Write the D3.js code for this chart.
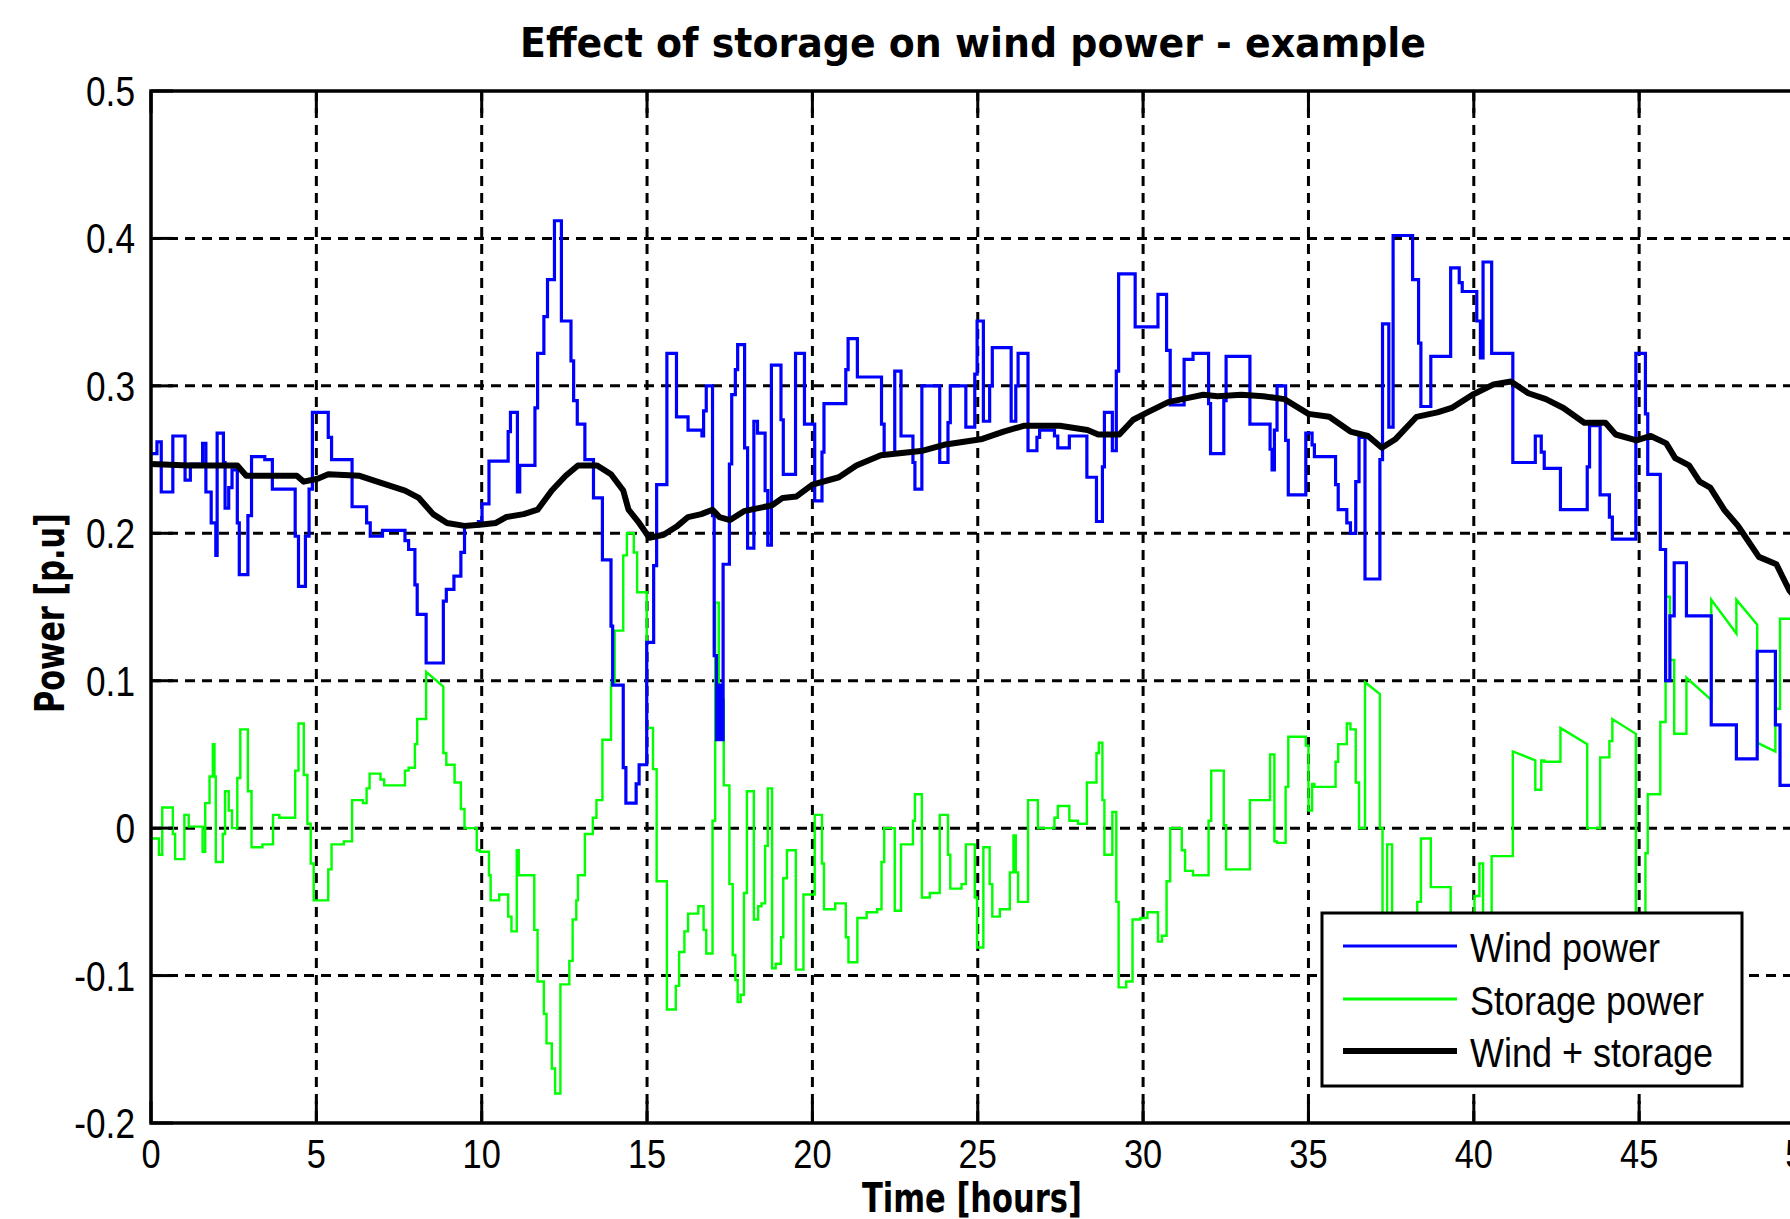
<!DOCTYPE html>
<html>
<head>
<meta charset="utf-8">
<script src="https://cdn.jsdelivr.net/npm/d3@7"></script>
<style>
  body { margin: 0; background: #fff; }
  svg { display: block; }
</style>
</head>
<body>
<div id="chart"></div>
<script>
// ---------------- data (hours, p.u.) ----------------
const xTicks = [0, 5, 10, 15, 20, 25, 30, 35, 40, 45, 50];
const yTicks = [-0.2, -0.1, 0, 0.1, 0.2, 0.3, 0.4, 0.5];
const seriesNames = ["Wind power", "Storage power", "Wind + storage"];

// wind power: step starts [t, value]
const windSteps = [
  [0, .254], [0.18, .262], [0.31, .228], [0.66, .266], [1.03, .236], [1.19, .247], [1.56, .261],
  [1.66, .228], [1.82, .207], [1.96, .185], [2.0, .268], [2.19, .248], [2.24, .217], [2.35, .231],
  [2.45, .243], [2.61, .207], [2.67, .172], [2.93, .212], [3.04, .252], [3.44, .25], [3.67, .23],
  [4.36, .198], [4.46, .164], [4.67, .198], [4.78, .23], [4.88, .282], [5.36, .265], [5.46, .25],
  [6.08, .218], [6.52, .207], [6.63, .198], [7.0, .202], [7.68, .195], [7.79, .189], [7.98, .165],
  [8.05, .145], [8.32, .112], [8.84, .154], [8.93, .162], [9.16, .171], [9.37, .187], [9.48, .205],
  [9.9, .208], [10.01, .22], [10.22, .249], [10.8, .269], [10.87, .282], [11.08, .228], [11.15, .246],
  [11.61, .285], [11.69, .322], [11.88, .347], [11.99, .372], [12.2, .412], [12.41, .344], [12.7, .317],
  [12.78, .29], [12.89, .274], [13.12, .25], [13.38, .224], [13.65, .182], [13.91, .137], [13.96, .097],
  [14.28, .041], [14.36, .017], [14.67, .03], [14.76, .043], [14.99, .126], [15.2, .178], [15.29, .233],
  [15.6, .322], [15.89, .279], [16.24, .27], [16.66, .266], [16.71, .283], [16.79, .30], [16.98, .212],
  [17.03, .117], [17.1, .06], [17.17, .097], [17.25, .06], [17.3, .179], [17.49, .247], [17.56, .294],
  [17.67, .311], [17.74, .328], [17.95, .258], [18.04, .19], [18.23, .276], [18.34, .268], [18.57, .229],
  [18.65, .192], [18.76, .314], [19.05, .277], [19.12, .24], [19.49, .322], [19.76, .274], [20.07, .222],
  [20.29, .255], [20.35, .288], [21.01, .311], [21.08, .332], [21.36, .306], [22.09, .274], [22.17, .254],
  [22.49, .31], [22.68, .266], [23.04, .248], [23.1, .23], [23.31, .30], [23.85, .248], [24.1, .275],
  [24.17, .30], [24.64, .272], [24.91, .308], [24.98, .344], [25.17, .276], [25.36, .30], [25.44, .326],
  [26.01, .276], [26.15, .30], [26.22, .322], [26.52, .256], [26.79, .265], [26.87, .27], [27.32, .266],
  [27.42, .258], [27.77, .266], [28.3, .238], [28.59, .208], [28.77, .245], [28.83, .282], [29.07, .256],
  [29.19, .31], [29.26, .376], [29.76, .34], [30.45, .362], [30.71, .324], [30.82, .287], [31.24, .318],
  [31.51, .322], [31.98, .288], [32.04, .254], [32.44, .29], [32.51, .32], [33.23, .274], [33.84, .257],
  [33.9, .243], [33.97, .27], [34.05, .30], [34.31, .263], [34.39, .226], [34.92, .268], [35.11, .26],
  [35.18, .252], [35.82, .233], [35.9, .216], [36.16, .207], [36.27, .20], [36.43, .235], [36.53, .265],
  [36.71, .169], [37.16, .25], [37.24, .342], [37.43, .272], [37.56, .402], [38.15, .372], [38.33, .329],
  [38.4, .286], [38.7, .32], [39.3, .38], [39.56, .37], [39.65, .364], [40.09, .344], [40.2, .319],
  [40.28, .384], [40.54, .322], [41.18, .248], [41.86, .266], [42.04, .255], [42.13, .244], [42.62, .216],
  [43.43, .245], [43.5, .273], [43.82, .226], [44.1, .211], [44.19, .196], [44.9, .322], [45.19, .281],
  [45.26, .24], [45.64, .189], [45.8, .1], [45.93, .144], [46.06, .18], [46.43, .144], [47.18, .07],
  [47.94, .047], [48.57, .12], [49.12, .07], [49.26, .029]
];

// storage power: step starts [t, value] or [t, [start, end]] where the step slopes
const storageSteps = [
  [0, -.007], [0.24, -.018], [0.34, .014], [0.66, -.004], [0.73, -.021], [1.01, .009], [1.14, .001],
  [1.56, -.016], [1.64, .017], [1.77, .035], [1.87, .057], [1.92, .035], [1.96, -.023], [2.17, -.004],
  [2.24, .025], [2.35, .012], [2.45, .0], [2.61, .034], [2.70, .067], [2.93, .025], [3.04, -.013],
  [3.37, -.011], [3.69, .009], [3.88, .007], [4.36, .039], [4.46, .071], [4.62, .036], [4.73, .003],
  [4.83, -.024], [4.92, -.049], [5.36, -.028], [5.46, -.011], [5.83, -.009], [6.08, .019], [6.41, .017],
  [6.52, .027], [6.61, .037], [6.94, .033], [7.05, .029], [7.68, .039], [7.79, .041], [7.98, .057],
  [8.05, .074], [8.32, [.106, .096]], [8.84, .051], [8.93, .043], [9.18, .031], [9.37, .013], [9.48, .0],
  [9.85, -.015], [9.95, -.016], [10.22, -.032], [10.27, -.049], [10.53, -.045], [10.8, -.06], [10.9, -.07],
  [11.06, -.015], [11.12, -.032], [11.59, -.069], [11.69, -.104], [11.88, -.126], [11.96, -.146],
  [12.12, -.163], [12.22, -.18], [12.38, -.106], [12.65, -.09], [12.75, -.062], [12.86, -.049],
  [12.91, -.032], [13.12, -.004], [13.36, .007], [13.47, .019], [13.65, .06], [13.91, .099], [14.02, .134],
  [14.28, .185], [14.39, .2], [14.6, .187], [14.7, .16], [14.99, .068], [15.18, .04], [15.29, -.036],
  [15.6, -.123], [15.87, -.107], [15.97, -.084], [16.13, -.07], [16.24, -.058], [16.55, -.053],
  [16.71, -.069], [16.79, -.085], [16.98, .005], [17.06, .153], [17.17, .087], [17.32, .029],
  [17.49, -.038], [17.59, -.086], [17.67, -.103], [17.74, -.118], [17.83, -.113], [17.93, -.044],
  [18.02, .025], [18.23, -.062], [18.36, -.053], [18.46, -.051], [18.57, -.012], [18.65, .027],
  [18.78, -.095], [18.89, -.092], [19.05, -.074], [19.12, -.034], [19.23, -.015], [19.5, -.096],
  [19.73, -.045], [20.07, .009], [20.29, -.024], [20.35, -.055], [20.69, -.051], [21.01, -.074],
  [21.09, -.091], [21.36, -.061], [21.64, -.057], [21.96, -.055], [22.09, -.023], [22.17, .0],
  [22.49, -.056], [22.68, -.011], [23.04, .005], [23.1, .023], [23.31, -.047], [23.55, -.044],
  [23.85, .009], [24.1, -.018], [24.17, -.041], [24.51, -.038], [24.64, -.011], [24.91, -.047],
  [24.98, -.081], [25.17, -.013], [25.36, -.038], [25.44, -.06], [25.67, -.055], [25.97, -.03],
  [26.08, -.005], [26.15, -.03], [26.22, -.05], [26.52, .019], [26.82, .0], [27.32, .007], [27.42, .015],
  [27.77, .005], [28.03, .003], [28.3, .031], [28.59, .051], [28.66, .058], [28.77, .019], [28.83, -.018],
  [29.07, .011], [29.19, -.05], [29.26, -.108], [29.49, -.104], [29.68, -.062], [29.92, -.061],
  [30.13, -.057], [30.45, -.077], [30.57, -.073], [30.71, -.036], [30.82, .0], [31.17, -.015],
  [31.27, -.029], [31.51, -.032], [31.98, .005], [32.06, .039], [32.44, .002], [32.51, -.028],
  [33.23, .019], [33.84, .05], [33.97, -.009], [34.05, -.01], [34.31, .028], [34.39, .062], [34.92, .056],
  [35.0, .012], [35.11, .03], [35.18, .028], [35.82, .045], [35.9, .057], [36.16, .071], [36.27, .067],
  [36.43, .031], [36.53, .0], [36.71, [.099, .091]], [37.16, .0], [37.24, -.08], [37.38, -.011],
  [37.53, -.14], [38.15, -.10], [38.29, -.05], [38.4, -.007], [38.7, -.04], [39.3, -.097], [39.56, -.085],
  [40.02, -.046], [40.17, -.024], [40.28, -.087], [40.54, -.019], [41.18, [.052, .046]], [41.86, .026],
  [42.04, .046], [42.13, .045], [42.62, [.068, .057]], [43.43, .0], [43.82, .048], [44.1, .059],
  [44.19, [.074, .064]], [44.9, -.06], [45.19, -.017], [45.26, .023], [45.64, .072], [45.8, .157],
  [45.93, .114], [46.06, .064], [46.43, [.102, .087]], [47.18, [.155, .132]], [47.94, [.155, .138]],
  [48.57, [.058, .052]], [49.12, .081], [49.26, .142]
];

// wind + storage: points [t, value]
const combinedPoints = [
  [0, .247], [1.14, .246], [2.61, .246], [2.88, .239], [4.41, .239], [4.62, .235], [5.04, .237], [5.36, .240],
  [6.31, .239], [6.84, .235], [7.68, .229], [8.1, .224], [8.53, .213], [8.95, .207], [9.48, .205],
  [10.01, .206], [10.43, .207], [10.74, .211], [11.27, .213], [11.69, .216], [12.12, .229], [12.54, .239],
  [12.91, .246], [13.49, .246], [13.91, .24], [14.28, .229], [14.44, .216], [14.76, .207], [15.07, .197],
  [15.5, .199], [15.92, .205], [16.24, .211], [16.64, .213], [16.98, .216], [17.19, .211], [17.51, .209],
  [17.93, .215], [18.78, .219], [19.1, .224], [19.52, .225], [20.0, .233], [20.8, .238], [21.33, .246],
  [22.07, .253], [23.34, .256], [23.98, .26], [25.14, .264], [25.78, .269], [26.41, .273], [27.48, .273],
  [28.32, .27], [28.64, .267], [29.28, .267], [29.7, .277], [30.13, .282], [30.76, .289], [31.4, .292],
  [31.82, .294], [32.25, .293], [32.97, .294], [33.63, .293], [34.27, .291], [35.0, .281], [35.63, .279],
  [36.27, .269], [36.8, .266], [37.22, .258], [37.64, .264], [38.27, .279], [38.9, .282], [39.33, .285],
  [39.96, .294], [40.6, .301], [41.12, .303], [41.65, .295], [42.18, .291], [42.71, .285], [43.34, .275],
  [43.98, .275], [44.29, .267], [44.92, .263], [45.35, .266], [45.82, .261], [46.09, .251], [46.51, .246],
  [46.83, .235], [47.15, .231], [47.57, .216], [47.99, .205], [48.2, .198], [48.62, .184], [49.15, .179],
  [49.37, .169], [49.55, .161], [50, .15]
];

// ---------------- layout ----------------
const WIDTH = 1790, HEIGHT = 1219;
const margin = {left: 151, top: 91, bottom: 1123};
const T_END = 50;
const NARROW = "'Liberation Sans', Arial, sans-serif";
const BOLD = "'DejaVu Sans Condensed', 'DejaVu Sans', sans-serif";

const svg = d3.select("#chart").append("svg")
  .attr("width", WIDTH)
  .attr("height", HEIGHT)
  .style("font-family", NARROW);

const x = d3.scaleLinear().domain([0, 50]).range([margin.left, 1804.5]);
const y = d3.scaleLinear().domain([-0.2, 0.5]).range([margin.bottom, margin.top]);

const plotW = x(50) - x(0), plotH = y(-0.2) - y(0.5);

svg.append("defs").append("clipPath").attr("id", "plot-clip")
  .append("rect")
  .attr("x", x(0)).attr("y", y(0.5))
  .attr("width", plotW).attr("height", plotH);

// ---------------- grid ----------------
const grid = svg.append("g").attr("stroke", "#000").attr("stroke-width", 3).attr("stroke-dasharray", "10,7");
grid.selectAll(".vg").data(xTicks.slice(1, -1)).join("line")
  .attr("x1", d => x(d)).attr("x2", d => x(d))
  .attr("y1", y(0.5)).attr("y2", y(-0.2));
grid.selectAll(".hg").data(yTicks.slice(1, -1)).join("line")
  .attr("x1", x(0)).attr("x2", x(50))
  .attr("y1", d => y(d)).attr("y2", d => y(d));

// ---------------- series ----------------
function stepVertices(steps) {
  const pts = [];
  steps.forEach(([t, v], i) => {
    const tNext = i + 1 < steps.length ? steps[i + 1][0] : T_END;
    const a = Array.isArray(v) ? v[0] : v;
    const b = Array.isArray(v) ? v[1] : v;
    pts.push([t, a], [tNext, b]);
  });
  return pts;
}

const line = d3.line().x(d => x(d[0])).y(d => y(d[1]));
const plot = svg.append("g").attr("clip-path", "url(#plot-clip)")
  .attr("fill", "none").attr("stroke-linejoin", "miter");

plot.append("path").datum(stepVertices(storageSteps))
  .attr("d", line).attr("stroke", "#00ff00").attr("stroke-width", 2.4);
plot.append("path").datum(stepVertices(windSteps))
  .attr("d", line).attr("stroke", "#0000ff").attr("stroke-width", 3.2);
plot.append("path").datum(combinedPoints)
  .attr("d", line).attr("stroke", "#000").attr("stroke-width", 6).attr("stroke-linejoin", "round");

// ---------------- axes box & ticks ----------------
svg.append("rect")
  .attr("x", x(0)).attr("y", y(0.5))
  .attr("width", plotW).attr("height", plotH)
  .attr("fill", "none").attr("stroke", "#000").attr("stroke-width", 3.5);

const ticks = svg.append("g").attr("stroke", "#000").attr("stroke-width", 3);
ticks.selectAll(".xb").data(xTicks).join("line")
  .attr("x1", d => x(d)).attr("x2", d => x(d))
  .attr("y1", y(-0.2)).attr("y2", y(-0.2) - 22);
ticks.selectAll(".xt").data(xTicks).join("line")
  .attr("x1", d => x(d)).attr("x2", d => x(d))
  .attr("y1", y(0.5)).attr("y2", y(0.5) + 22);
ticks.selectAll(".yl").data(yTicks).join("line")
  .attr("x1", x(0)).attr("x2", x(0) + 22)
  .attr("y1", d => y(d)).attr("y2", d => y(d));

// narrow labels: Liberation Sans squeezed horizontally
svg.append("g").selectAll("text").data(xTicks).join("text")
  .attr("transform", d => `translate(${x(d)},${y(-0.2) + 45}) scale(0.86,1)`)
  .attr("text-anchor", "middle")
  .attr("font-size", 40)
  .text(d => String(d));

svg.append("g").selectAll("text").data(yTicks).join("text")
  .attr("transform", d => `translate(${x(0) - 16},${y(d) + 15}) scale(0.84,1)`)
  .attr("text-anchor", "end")
  .attr("font-size", 42)
  .text(d => String(d));

// ---------------- titles ----------------
svg.append("text")
  .attr("x", 973).attr("y", 57)
  .attr("text-anchor", "middle")
  .attr("font-family", BOLD)
  .attr("font-weight", "bold")
  .attr("font-size", 40)
  .attr("textLength", 906).attr("lengthAdjust", "spacingAndGlyphs")
  .text("Effect of storage on wind power - example");

svg.append("text")
  .attr("x", 972).attr("y", 1212)
  .attr("text-anchor", "middle")
  .attr("font-family", BOLD)
  .attr("font-weight", "bold")
  .attr("font-size", 40)
  .attr("textLength", 220).attr("lengthAdjust", "spacingAndGlyphs")
  .text("Time [hours]");

svg.append("text")
  .attr("transform", `translate(64,${(y(0.5) + y(-0.2)) / 2 + 6}) rotate(-90)`)
  .attr("text-anchor", "middle")
  .attr("font-family", BOLD)
  .attr("font-weight", "bold")
  .attr("font-size", 40)
  .attr("textLength", 200).attr("lengthAdjust", "spacingAndGlyphs")
  .text("Power [p.u]");

// ---------------- legend ----------------
const legendColors = ["#0000ff", "#00ff00", "#000"];
const legendWidths = [3, 3, 6];
const legend = svg.append("g").attr("transform", "translate(1322,913)");
legend.append("rect")
  .attr("width", 420).attr("height", 173)
  .attr("fill", "#fff").attr("stroke", "#000").attr("stroke-width", 3);
const rows = legend.selectAll("g.row").data(seriesNames).join("g")
  .attr("class", "row")
  .attr("transform", (d, i) => `translate(0,${[33, 86, 138][i]})`);
rows.append("line")
  .attr("x1", 21).attr("x2", 135)
  .attr("stroke", (d, i) => legendColors[i])
  .attr("stroke-width", (d, i) => legendWidths[i]);
rows.append("text")
  .attr("transform", "translate(148,16) scale(0.9,1)")
  .attr("font-size", 40)
  .text(d => d);
</script>
</body>
</html>
